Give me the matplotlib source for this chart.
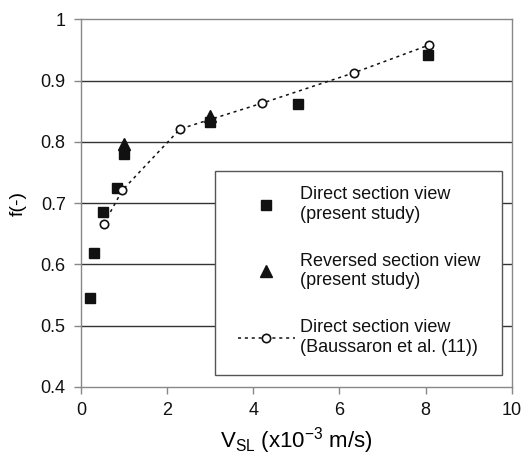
import matplotlib
matplotlib.use("Agg")
import matplotlib.pyplot as plt
from matplotlib.patches import Rectangle

plt.rcParams['font.family'] = ['Liberation Sans', 'DejaVu Sans']
plt.rcParams['mathtext.fontset'] = 'custom'
plt.rcParams['mathtext.rm'] = 'Liberation Sans'

# Data
sq_x = [0.21, 0.30, 0.50, 0.83, 1.0, 3.0, 5.05, 8.05]
sq_y = [0.546, 0.618, 0.685, 0.724, 0.780, 0.833, 0.862, 0.942]
tri_x = [1.0, 3.0]
tri_y = [0.796, 0.842]
circ_x = [0.53, 0.96, 2.3, 4.2, 6.35, 8.08]
circ_y = [0.666, 0.721, 0.821, 0.863, 0.913, 0.958]

labels = ["Direct section view\n(present study)",
          "Reversed section view\n(present study)",
          "Direct section view\n(Baussaron et al. (11))"]
xticks = [0, 2, 4, 6, 8, 10]
yticks = [0.4, 0.5, 0.6, 0.7, 0.8, 0.9, 1.0]
yticklabels = ["0.4", "0.5", "0.6", "0.7", "0.8", "0.9", "1"]

fig = plt.figure(figsize=(5.28, 4.57), dpi=100)
ax = fig.add_axes([0.1534, 0.1532, 0.8157, 0.8046])

for g in [0.5, 0.6, 0.7, 0.8, 0.9]:
    ax.axhline(g, color='#333333', lw=1.0, zorder=0)

ax.plot(sq_x, sq_y, linestyle='none', marker='s', ms=7, color='#111111',
        label=labels[0], zorder=3)
ax.plot(tri_x, tri_y, linestyle='none', marker='^', ms=8, color='#111111',
        label=labels[1], zorder=3)
ax.plot(circ_x, circ_y, linestyle=(0, (2, 2.5)), lw=1.1, color='#111111',
        marker='o', ms=6, mfc='white', mec='#111111', mew=1.2,
        label=labels[2], zorder=4)

ax.set_xlim(0, 10)
ax.set_ylim(0.4, 1.0)
ax.set_xticks(xticks)
ax.set_xticklabels([str(t) for t in xticks])
ax.set_yticks(yticks)
ax.set_yticklabels(yticklabels)

for s in ax.spines.values():
    s.set_color('#888888')
    s.set_linewidth(1.0)

ax.tick_params(axis='both', direction='out', length=5, width=1, color='#888888',
               labelsize=13, labelcolor='#111111', pad=6)

ax.set_xlabel(r"V$_{\mathrm{SL}}$ (x10$^{\mathrm{-3}}$ m/s)", fontsize=16, labelpad=4.5)
ax.set_ylabel("f(-)", fontsize=14, labelpad=10)

# legend frame drawn as a rectangle in axes coordinates
ax.add_patch(Rectangle((0.311, 0.0326), 0.6665, 0.5548, transform=ax.transAxes,
                       facecolor='white', edgecolor='#555555', lw=1.0, zorder=5))

leg = ax.legend(loc='upper left', bbox_to_anchor=(0.3645, 0.546),
                frameon=False, borderaxespad=0, borderpad=0,
                fontsize=13, handlelength=3.15, handletextpad=0.3,
                labelspacing=1.66, labelcolor='#111111')
leg.set_zorder(6)

fig.savefig("out.png", dpi=100)
